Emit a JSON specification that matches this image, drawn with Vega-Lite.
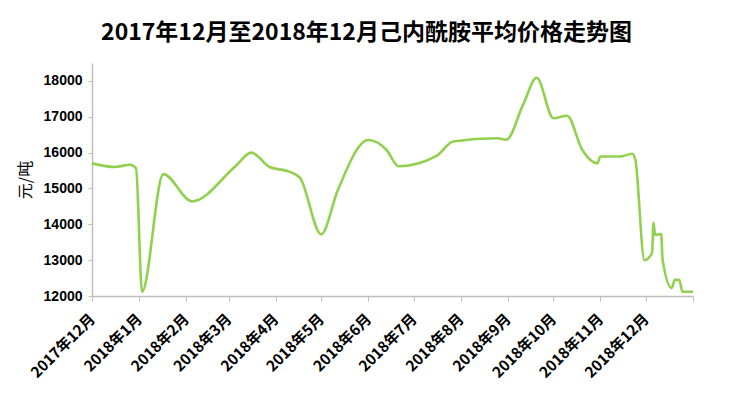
{
  "$schema": "https://vega.github.io/schema/vega-lite/v6.json",
  "autosize": "none",
  "width": 601,
  "height": 233,
  "padding": {"left": 92, "top": 63, "right": 39, "bottom": 103},
  "background": "white",
  "title": {
    "text": "2017年12月至2018年12月己内酰胺平均价格走势图",
    "font": "Noto Sans CJK SC",
    "fontSize": 23,
    "fontWeight": "bold",
    "color": "#000000",
    "anchor": "middle",
    "dx": -26,
    "offset": 18
  },
  "config": {"view": {"stroke": null}},
  "data": {
    "values": [
      {"date": "2017-12-01", "price": 15700},
      {"date": "2017-12-16", "price": 15600},
      {"date": "2017-12-26", "price": 15660},
      {"date": "2017-12-30", "price": 15560},
      {"date": "2018-01-03", "price": 12120},
      {"date": "2018-01-17", "price": 15400},
      {"date": "2018-02-05", "price": 14640},
      {"date": "2018-03-05", "price": 15600},
      {"date": "2018-03-16", "price": 16000},
      {"date": "2018-03-28", "price": 15600},
      {"date": "2018-04-10", "price": 15470},
      {"date": "2018-04-17", "price": 15300},
      {"date": "2018-05-01", "price": 13720},
      {"date": "2018-05-12", "price": 14960},
      {"date": "2018-06-01", "price": 16350},
      {"date": "2018-06-13", "price": 16080},
      {"date": "2018-06-21", "price": 15620},
      {"date": "2018-07-16", "price": 15910},
      {"date": "2018-07-27", "price": 16310},
      {"date": "2018-08-25", "price": 16400},
      {"date": "2018-08-31", "price": 16360},
      {"date": "2018-09-11", "price": 17330},
      {"date": "2018-09-20", "price": 18090},
      {"date": "2018-10-01", "price": 16960},
      {"date": "2018-10-10", "price": 17030},
      {"date": "2018-10-20", "price": 16080},
      {"date": "2018-10-30", "price": 15700},
      {"date": "2018-11-01", "price": 15890},
      {"date": "2018-11-14", "price": 15890},
      {"date": "2018-11-22", "price": 15970},
      {"date": "2018-11-24", "price": 15800},
      {"date": "2018-11-30", "price": 13000},
      {"date": "2018-12-05", "price": 13200},
      {"date": "2018-12-06", "price": 14040},
      {"date": "2018-12-07", "price": 13700},
      {"date": "2018-12-11", "price": 13730},
      {"date": "2018-12-12", "price": 13000},
      {"date": "2018-12-18", "price": 12220},
      {"date": "2018-12-20", "price": 12450},
      {"date": "2018-12-23", "price": 12450},
      {"date": "2018-12-25", "price": 12120},
      {"date": "2019-01-01", "price": 12120}
    ]
  },
  "mark": {"type": "line", "color": "#92D050", "strokeWidth": 2.6, "interpolate": "monotone"},
  "encoding": {
    "x": {
      "field": "date",
      "type": "temporal",
      "scale": {
        "type": "utc",
        "domain": [
          {"year": 2017, "month": 12, "date": 1, "utc": true},
          {"year": 2019, "month": 1, "date": 1, "utc": true}
        ]
      },
      "axis": {
        "title": null,
        "grid": false,
        "tickCount": {"interval": "month", "step": 1},
        "labelExpr": "datum.value >= 1546300000000 ? '' : utcFormat(datum.value, '%Y年%-m月')",
        "labelAngle": -45,
        "labelAlign": "right",
        "labelBaseline": "middle",
        "labelFont": "Noto Sans CJK SC",
        "labelFontSize": 15,
        "labelFontWeight": "bold",
        "labelColor": "#000000",
        "labelPadding": 15,
        "labelOverlap": false,
        "labelFlush": false,
        "domainColor": "#BFBFBF",
        "domainWidth": 1.5,
        "tickColor": "#BFBFBF",
        "tickSize": 5,
        "tickWidth": 1
      }
    },
    "y": {
      "field": "price",
      "type": "quantitative",
      "scale": {"domain": [12000, 18500], "nice": false, "zero": false},
      "axis": {
        "title": "元/吨",
        "titleFont": "Noto Sans CJK SC",
        "titleFontSize": 16,
        "titleFontWeight": "normal",
        "titleColor": "#000000",
        "titlePadding": 10,
        "values": [12000, 13000, 14000, 15000, 16000, 17000, 18000],
        "format": "d",
        "grid": false,
        "ticks": true,
        "tickSize": 4,
        "tickColor": "#BFBFBF",
        "labelFont": "Liberation Sans",
        "labelFontSize": 14,
        "labelFontWeight": "bold",
        "labelColor": "#000000",
        "labelPadding": 6,
        "domainColor": "#BFBFBF",
        "domainWidth": 1.5
      }
    }
  }
}
